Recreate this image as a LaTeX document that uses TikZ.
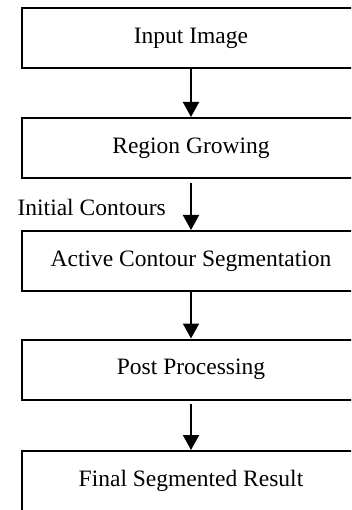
\documentclass[tikz,border=0pt]{standalone}
\usepackage{fontspec}
\setmainfont{Liberation Serif}
\usepackage{tikz}
\usetikzlibrary{arrows.meta}

\begin{document}
\begin{tikzpicture}[x=1pt,y=-1pt,
    stagebox/.style={draw,line width=2pt,minimum width=338pt,minimum height=60pt,inner sep=0pt},
    flow/.style={-{Triangle[width=16pt,length=15pt]},line width=2pt}]
  \fontsize{23.5}{28}\selectfont
  % page frame
  \clip (0,0) rectangle (351,510);

  % stages
  \node[stagebox] (input)  at (191,38.5)  {Input Image};
  \node[stagebox] (growth) at (191,148)   {Region Growing};
  \node[stagebox] (active) at (191,261)   {Active Contour Segmentation};
  \node[stagebox] (post)   at (191,369.5) {Post Processing};
  \node[stagebox] (final)  at (191,481)   {Final Segmented Result};

  % connectors
  \draw[flow] (input) -- (growth);
  \draw[flow,shorten <=4pt] (growth) -- (active);
  \draw[flow] (active) -- (post);
  \draw[flow,shorten <=3pt] (post) -- (final);

  \node[anchor=base east,inner sep=0pt] (initlbl) at (166,215.5) {Initial Contours};
\end{tikzpicture}
\end{document}
